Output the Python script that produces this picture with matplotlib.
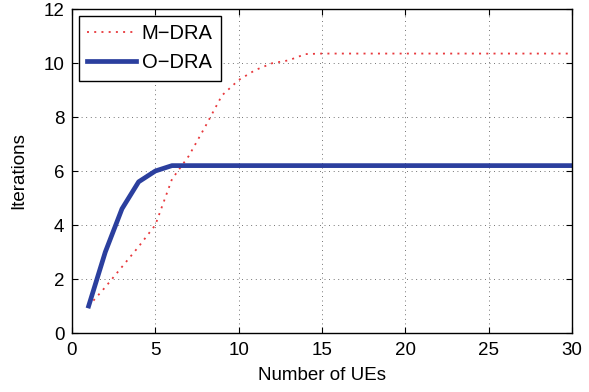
import matplotlib
matplotlib.use("Agg")
import matplotlib.pyplot as plt

plt.rcParams['font.family'] = ['Liberation Sans', 'DejaVu Sans']

# Number of UEs
ues = list(range(1, 31))

# Iterations
m_dra = [1.0, 1.7, 2.45, 3.2, 4.0, 5.7, 6.55, 7.65, 8.8, 9.37, 9.74, 9.99, 10.1, 10.33] + [10.35] * 16
o_dra = [1.0, 3.0, 4.6, 5.6, 6.0, 6.2] + [6.2] * 24

fig = plt.figure(figsize=(5.89, 3.92), dpi=100)
ax = fig.add_axes([0.1222, 0.1505, 0.849, 0.8265])

ax.plot(ues, m_dra, color='#e8383c', linewidth=1.3, dashes=(1.1, 2.9), label='M\u2212DRA')
ax.plot(ues, o_dra, color='#2b3f9e', linewidth=3.4, label='O\u2212DRA')

ax.set_xlim(0, 30)
ax.set_ylim(0, 12)
ax.set_xticks(range(0, 31, 5))
ax.set_yticks(range(0, 13, 2))

# MATLAB-like dotted grid
ax.grid(True, color='#444444', linewidth=0.6, dashes=(1, 4.5))

ax.tick_params(direction='in', top=True, right=True, length=4, width=0.8, labelsize=13.5)
ax.tick_params(axis='x', pad=6.5)
ax.tick_params(axis='y', pad=5.5)
for s in ax.spines.values():
    s.set_linewidth(1.0)

ax.set_xlabel('Number of UEs', fontsize=13.5, labelpad=6)
ax.set_ylabel('Iterations', fontsize=13.5, labelpad=12)

leg = ax.legend(loc='upper left', fontsize=14.5, fancybox=False, edgecolor='black',
                framealpha=1, handlelength=2.4, borderaxespad=0.34, borderpad=0.42,
                labelspacing=0.5, handletextpad=0.3)
leg.get_frame().set_linewidth(1.0)

fig.savefig('out.png', dpi=100)
